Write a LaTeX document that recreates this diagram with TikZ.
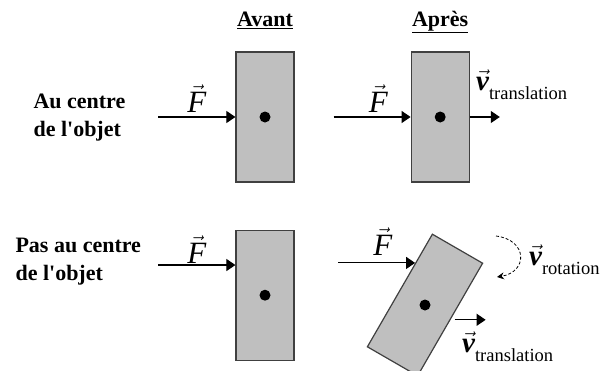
\documentclass[tikz,border=0pt]{standalone}
\usepackage{fontspec}
\setmainfont{Liberation Serif}
\usetikzlibrary{arrows.meta, positioning, calc}

\newcommand{\Fvec}{$\vec{\hbox{\itshape F}}$}
\newcommand{\vitesse}[1]{{\fontsize{29}{30}\selectfont$\vec{\hbox{\bfseries\itshape v}}$}\raisebox{-9pt}{\fontsize{18.5}{20}\selectfont #1}}

\begin{document}
\begin{tikzpicture}[
        x=1pt, y=-1pt,
        objet/.style = {draw=black!75, fill=black!25, line width=1.2pt, minimum width=58pt, minimum height=130pt, inner sep=0pt},
        centre/.style = {circle, fill=black, minimum size=11pt, inner sep=0pt},
        force/.style = {-{Triangle[length=9pt, width=12pt]}, line width=1.1pt},
        titre/.style = {font=\fontsize{22}{24}\selectfont\bfseries, anchor=base},
        cas/.style = {font=\fontsize{22}{28}\selectfont\bfseries, align=left, anchor=west},
        vecteur/.style = {font=\fontsize{31}{32}\selectfont, inner sep=0pt},
        vlabel/.style = {anchor=base west, inner sep=0pt}
    ]
    \clip (0,0) rectangle (608,370);

    % objets
    \node[objet] (avant) at (265,117) {};
    \node[objet, right=116pt of avant] (apres) {};
    \node[objet, below=47pt of avant] (pas) {};
    \node[objet, rotate=-30] (tourne) at (425,305) {};
    \node[centre] (c1) at (avant.center) {};
    \node[centre] (c2) at (apres.center) {};
    \node[centre] (c3) at (pas.center) {};
    \node[centre] (c4) at (tourne.center) {};

    % titres
    \node[titre] (tavant) at ($(avant.north)+(0,-25)$) {\underline{Avant}};
    \node[titre] (tapres) at ($(apres.north)+(0,-25)$) {\underline{Après}};
    \node[cas] (cas1) at (30,118) {Au centre\\de l\textquotesingle objet};
    \node[cas] (cas2) at (12,262) {Pas au centre\\de l\textquotesingle objet};

    % forces
    \coordinate (f1) at ($(avant.west)+(-77,0)$);
    \coordinate (f2) at ($(apres.west)+(-77,0)$);
    \coordinate (h3) at ($(pas.north west)!0.27!(pas.south west)$);
    \coordinate (f3) at ($(h3)+(-77,0)$);
    \coordinate (h4) at ($(tourne.north west)!0.26!(tourne.south west)$);
    \coordinate (f4) at ($(h4)+(-77,0)$);
    \draw[force] (f1) -- node[vecteur, above=4pt] {\Fvec} (avant.west);
    \draw[force] (f2) -- node[vecteur, above=4pt, pos=0.58] {\Fvec} (apres.west);
    \draw[force] (f3) -- node[vecteur, above=1pt] {\Fvec} (h3);
    \draw[force] (f4) -- node[vecteur, above=7pt, pos=0.58] {\Fvec} (h4);

    % vitesses
    \coordinate (t1) at ($(apres.east)+(30,0)$);
    \coordinate (t2) at ($(tourne.east)+(35,0)$);
    \draw[force] (apres.east) -- (t1);
    \draw[force, shorten <=4pt] (tourne.east) -- (t2);
    \coordinate (r1) at (496,236);
    \coordinate (r2) at (497,277);
    \draw[line width=0.8pt, dash pattern=on 3pt off 2pt, -{Stealth[length=7pt, width=7pt]}] (r1) .. controls (528,240) and (528,272) .. (r2);
    \node[vlabel] (vt1) at (476,90) {\vitesse{translation}};
    \node[vlabel] (vr) at (529,265) {\vitesse{rotation}};
    \node[vlabel] (vt2) at (462,352) {\vitesse{translation}};
\end{tikzpicture}
\end{document}
